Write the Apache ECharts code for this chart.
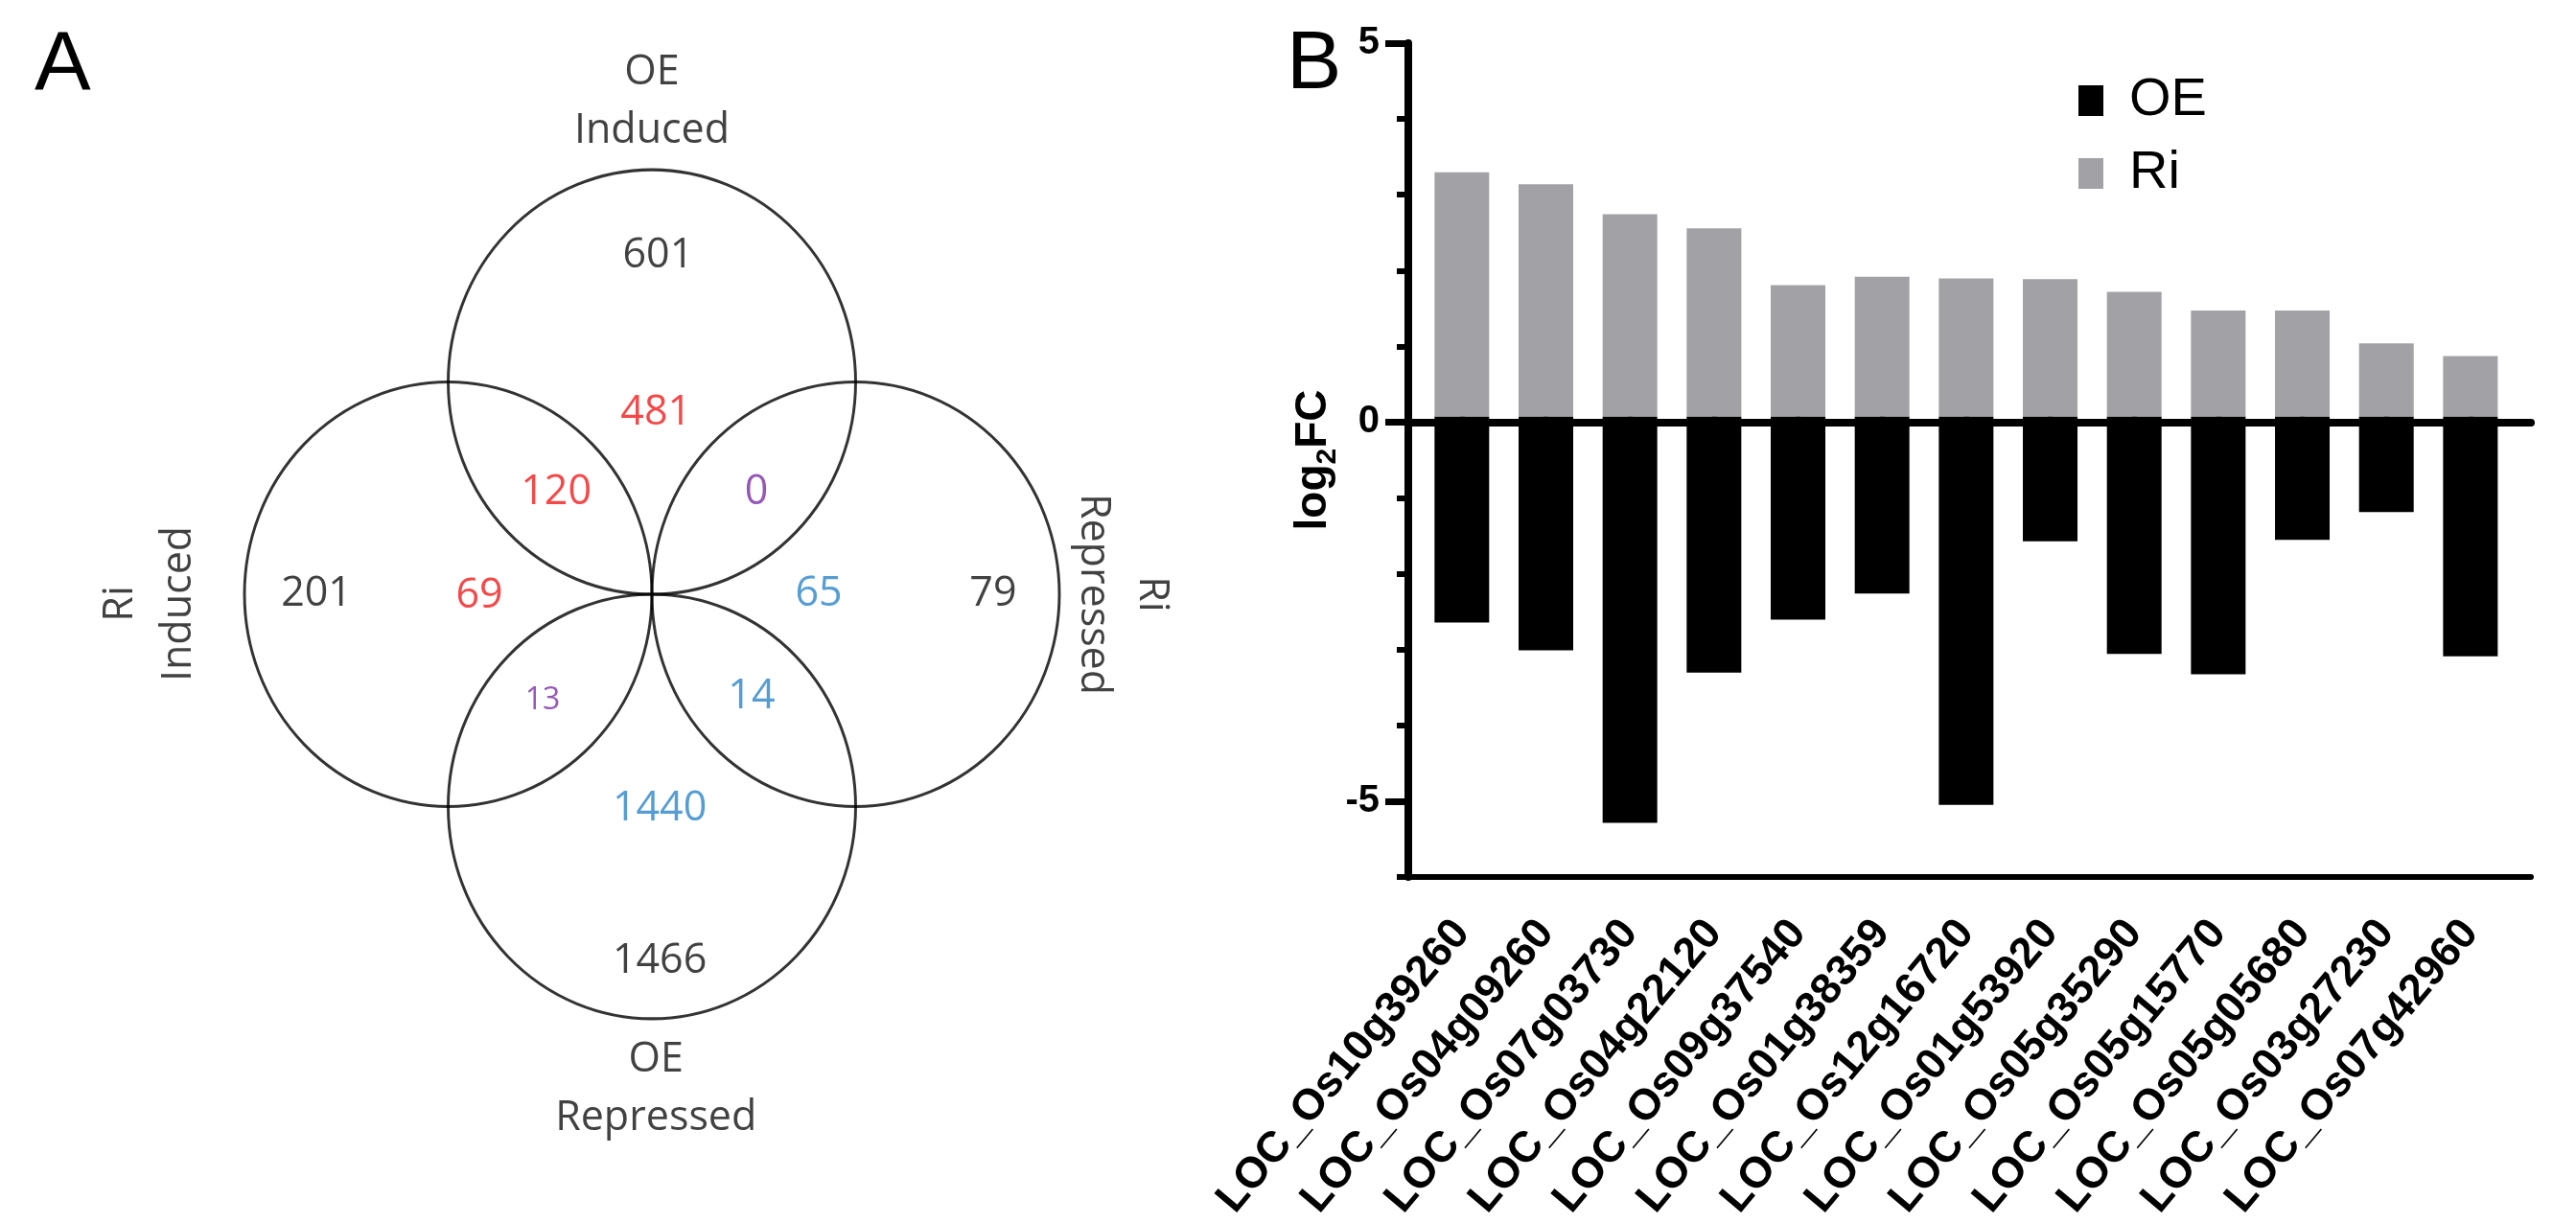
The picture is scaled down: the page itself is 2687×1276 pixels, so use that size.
<!DOCTYPE html>
<html><head><meta charset="utf-8">
<script src="https://cdn.jsdelivr.net/npm/echarts@6/dist/echarts.min.js"></script>
<style>html,body{margin:0;padding:0;background:#fff;}#c{width:2687px;height:1276px;}</style>
</head><body><div id="c"></div>
<script>
// ---------- data ----------
const genes = ['LOC_Os10g39260','LOC_Os04g09260','LOC_Os07g03730','LOC_Os04g22120','LOC_Os09g37540','LOC_Os01g38359','LOC_Os12g16720','LOC_Os01g53920','LOC_Os05g35290','LOC_Os05g15770','LOC_Os05g05680','LOC_Os03g27230','LOC_Os07g42960'];
const oeValues = [-2.76, -3.13, -5.44, -3.43, -2.72, -2.37, -5.20, -1.67, -3.18, -3.45, -1.65, -1.28, -3.21];
const riValues = [3.27, 3.11, 2.71, 2.52, 1.76, 1.87, 1.85, 1.84, 1.67, 1.42, 1.42, 0.98, 0.81];
const yTickLabels = [5, 0, -5];
const seriesNames = ['OE', 'Ri'];

const vennCounts = ['601','481','120','0','201','69','65','79','13','14','1440','1466'];
const vennSetNames = ['OE\nInduced','OE\nRepressed','Ri\nInduced','Ri\nRepressed'];

// ---------- layout / style ----------
const vennCountPos = [[0.03,1.594],[0.02,0.854],[-0.47,0.479],[0.513,0.479],[-1.647,0],[-0.847,-0.01],[0.819,0],[1.675,0],[-0.536,-0.501],[0.489,-0.483],[0.038,-1.012],[0.038,-1.73]];
const vennCountColor = ['#111','#f21a1a','#f21a1a','#7a2ea6','#111','#f21a1a','#2b84c8','#111','#7a2ea6','#2b84c8','#2b84c8','#111'];
const vennCountSize = [43,43,43,43,43,43,43,43,32,43,43,43];
const vennSetPos = [[0.0,2.32],[0.02,-2.33],[-2.466,-0.045],[2.31,0.0]];
const vennSetRotate = [0, 0, 90, -90];
const vennCircleCenters = [[0,1],[0,-1],[-1,0],[1,0]];

const VX = [-3.2, 3.2], VY = [-2.8, 2.8];
const vennGrid = {left: 0, top: 0, width: 1360, height: 1240};
const circleW = 2 * vennGrid.width / (VX[1]-VX[0]);
const circleH = 2 * vennGrid.height / (VY[1]-VY[0]);

const chart = echarts.init(document.getElementById('c'), null, {renderer: 'canvas'});
const vennFont = '"Open Sans", Lato, sans-serif';
const barFont = '"Liberation Sans", Arial, sans-serif';

const option = {
  backgroundColor: '#fff',
  animation: false,
  graphic: [
    {type: 'text', left: 36, top: 26, style: {text: 'A', fontSize: 88, fontFamily: barFont, fill: '#000'}},
    {type: 'text', left: 1342, top: 25, style: {text: 'B', fontSize: 86, fontFamily: barFont, fill: '#000'}}
  ],
  legend: {
    orient: 'vertical', left: 2163, top: 72, itemWidth: 26, itemHeight: 32, itemGap: 20,
    data: seriesNames,
    icon: 'rect',
    textStyle: {fontSize: 56, fontFamily: barFont, color: '#000', lineHeight: 56, padding: [0,0,0,22]}
  },
  grid: [
    {left: 1481, top: 45, width: 1139.7, height: 870},
    {left: 1469, top: 45, width: 1171, height: 870},
    vennGrid
  ],
  xAxis: [
    {type: 'category', gridIndex: 0, data: genes, boundaryGap: true,
     axisLine: {show: false},
     axisTick: {show: true, alignWithLabel: true, length: 23, lineStyle: {width: 5, color: '#000'}},
     axisLabel: {interval: 0, rotate: 50, margin: 64, fontSize: 45, fontWeight: 'bold', fontFamily: barFont, color: '#000'},
     splitLine: {show: false}},
    {type: 'value', gridIndex: 1, min: 0, max: 1, position: 'bottom',
     axisLine: {show: true, onZero: true, lineStyle: {width: 8, color: '#000'}},
     axisTick: {show: false}, axisLabel: {show: false}, splitLine: {show: false}},
    {type: 'value', gridIndex: 1, min: 0, max: 1, position: 'bottom',
     axisLine: {show: true, onZero: false, lineStyle: {width: 6, color: '#000'}},
     axisTick: {show: false}, axisLabel: {show: false}, splitLine: {show: false}},
    {type: 'value', gridIndex: 2, min: VX[0], max: VX[1], show: false}
  ],
  yAxis: [
    {type: 'value', gridIndex: 0, min: -6, max: 5, show: false},
    {type: 'value', gridIndex: 1, min: -6, max: 5, interval: 1, position: 'left',
     axisLine: {show: true, onZero: false, lineStyle: {width: 8, color: '#000'}},
     axisTick: {show: true, length: 12, lineStyle: {width: 6, color: '#000'}},
     axisLabel: {show: true, customValues: yTickLabels, margin: 30, fontSize: 40, fontWeight: 'bold', fontFamily: barFont, color: '#000'},
     splitLine: {show: false},
     name: '{a|log}{s|2}{a|FC}', nameLocation: 'middle', nameRotate: 90, nameGap: 60,
     nameTextStyle: {rich: {
       a: {fontSize: 46, fontWeight: 'bold', fontFamily: barFont, color: '#000', verticalAlign: 'bottom', padding: [0,0,6,0]},
       s: {fontSize: 30, fontWeight: 'bold', fontFamily: barFont, color: '#000', verticalAlign: 'bottom'}
     }}},
    {type: 'value', gridIndex: 1, min: -6, max: 5, position: 'left',
     axisLine: {show: false, onZero: false},
     axisTick: {show: true, customValues: yTickLabels, length: 24, lineStyle: {width: 7, color: '#000'}},
     axisLabel: {show: false}, splitLine: {show: false}},
    {type: 'value', gridIndex: 2, min: VY[0], max: VY[1], show: false}
  ],
  series: [
    {name: seriesNames[0], type: 'bar', xAxisIndex: 0, yAxisIndex: 0, data: oeValues,
     barWidth: 57, barGap: '-100%', itemStyle: {color: '#000'}, silent: true},
    {name: seriesNames[1], type: 'bar', xAxisIndex: 0, yAxisIndex: 0, data: riValues,
     barWidth: 57, barGap: '-100%', itemStyle: {color: '#a2a2a6'}, silent: true},
    {type: 'scatter', xAxisIndex: 3, yAxisIndex: 3, silent: true,
     symbol: 'circle', symbolSize: [circleW, circleH],
     itemStyle: {color: 'rgba(0,0,0,0)', borderColor: '#000', borderWidth: 3},
     data: vennCircleCenters, z: 1},
    {type: 'scatter', xAxisIndex: 3, yAxisIndex: 3, silent: true, symbolSize: 1,
     itemStyle: {color: 'rgba(0,0,0,0)'},
     label: {show: true, position: 'inside', formatter: '{b}', fontFamily: vennFont, align: 'center', verticalAlign: 'middle'},
     data: vennCounts.map((t, i) => ({name: t, value: vennCountPos[i],
       label: {color: vennCountColor[i], fontSize: vennCountSize[i]}})), z: 3},
    {type: 'scatter', xAxisIndex: 3, yAxisIndex: 3, silent: true, symbolSize: 1,
     itemStyle: {color: 'rgba(0,0,0,0)'},
     label: {show: true, position: 'inside', formatter: '{b}', fontFamily: vennFont, fontSize: 43, lineHeight: 61, color: '#111', align: 'center', verticalAlign: 'middle'},
     data: vennSetNames.map((t, i) => ({name: t, value: vennSetPos[i], label: {rotate: vennSetRotate[i]}})), z: 3}
  ]
};
chart.setOption(option);
</script>
</body></html>
